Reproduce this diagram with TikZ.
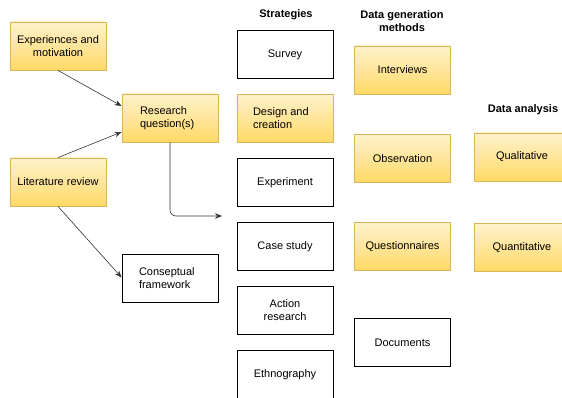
\documentclass[tikz,border=0pt]{standalone}
\usepackage{fontspec}
\setmainfont{Liberation Sans}
\usetikzlibrary{arrows.meta,calc}
\definecolor{ytop}{HTML}{FFF2CC}
\definecolor{ybot}{HTML}{FFD966}
\definecolor{ybord}{HTML}{D6B656}
\definecolor{linec}{HTML}{333333}
\tikzset{
  box/.style={minimum width=96pt,minimum height=48pt,inner sep=2pt,font=\fontsize{11}{13}\selectfont},
  ybox/.style={box,draw=ybord,line width=0.8pt,top color=ytop,bottom color=ybot},
  wbox/.style={box,draw=black,line width=0.8pt,fill=white},
  hdr/.style={font=\bfseries\fontsize{11}{13}\selectfont,align=center,inner sep=0pt},
  conn/.style={draw=linec,line width=0.6pt,-{Stealth[length=7pt,width=5.5pt]}}
}
\begin{document}
\begin{tikzpicture}[x=1pt,y=-1pt]
\useasboundingbox (0,0) rectangle (562,398);
% left
\node[ybox,align=center] (exp) at (58,46) {Experiences and\\motivation};
\node[ybox,align=left] (rq) at (170,118) {\raisebox{-2pt}{\parbox{60pt}{Research\\question(s)}}};
\node[ybox] (lit) at (58,182) {Literature review};
\node[wbox,align=left] (con) at (170,278.5) {\parbox{62pt}{Conseptual\\framework}};
% headers
\node[hdr] (hstr) at (286,15) {Strategies};
\node[hdr] (hdat) at (402,21.5) {Data generation\\methods};
\node[hdr] (hana) at (523,110) {Data analysis};
% strategies
\node[wbox] (survey) at (285,54.5) {Survey};
\node[ybox,align=left] (design) at (285,118.5) {\parbox{64pt}{Design and\\creation}};
\node[wbox] (experiment) at (285,182.5) {Experiment};
\node[wbox] (case) at (285,246.5) {Case study};
\node[wbox,align=center] (action) at (285,310.5) {Action\\research};
\node[wbox] (ethno) at (285,374.5) {Ethnography};
% data generation
\node[ybox] (interviews) at (402.5,70) {Interviews};
\node[ybox] (observation) at (402.5,158.5) {Observation};
\node[ybox] (quest) at (402.5,246.5) {Questionnaires};
\node[wbox] (docs) at (402.5,342.5) {Documents};
% data analysis
\node[ybox] (qual) at (522,157) {Qualitative};
\node[ybox] (quant) at (522,247.5) {Quantitative};
% connectors
\coordinate (rqend) at (222,216);
\draw[conn] (exp.south) -- ([yshift=12pt]rq.west);
\draw[conn] (lit.north) -- ([yshift=-14pt]rq.west);
\draw[conn] (lit.south) -- ([yshift=1pt]con.west);
\draw[conn,rounded corners=6pt] (rq.south) |- (rqend);
\end{tikzpicture}
\end{document}
